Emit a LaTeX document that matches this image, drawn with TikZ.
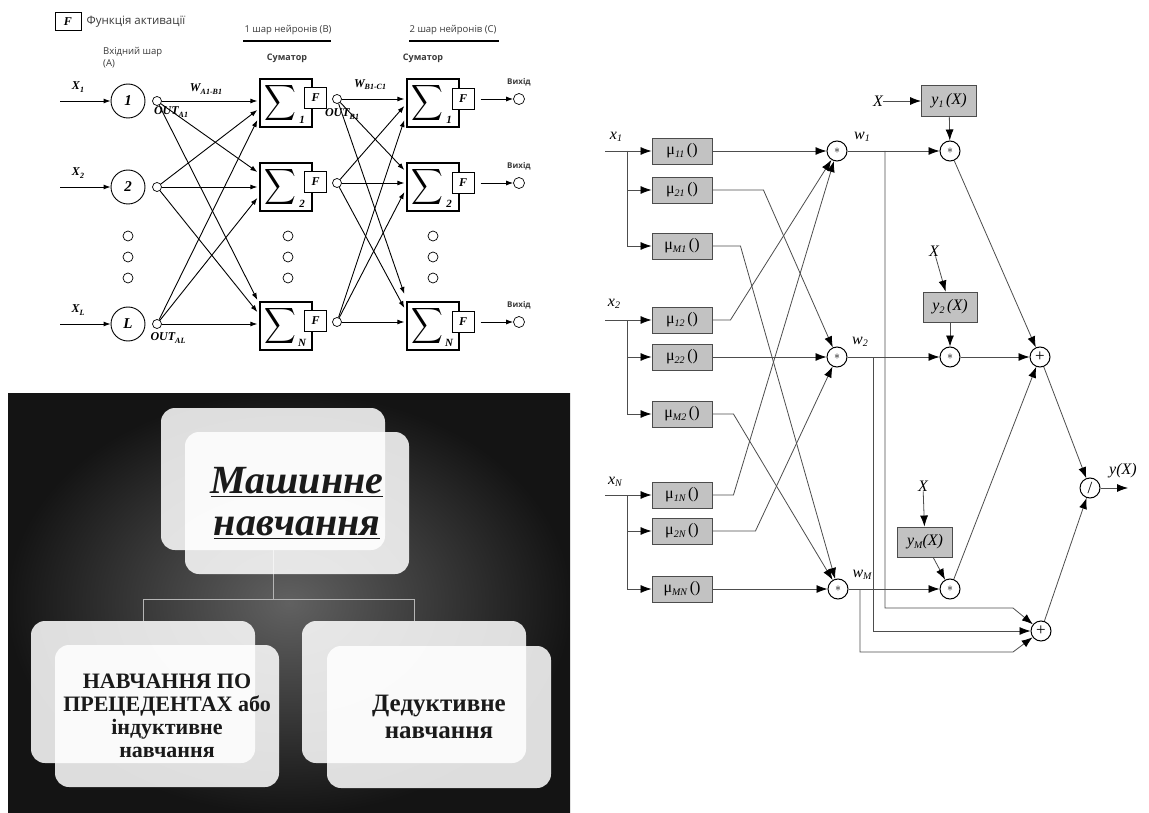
\documentclass[tikz,border=0pt]{standalone}
\usepackage{fontspec}
\usepackage{graphicx}
\setmainfont{Liberation Serif}
\setsansfont{Open Sans}
\usetikzlibrary{
  arrows.meta,
  positioning,
  shapes
}

\definecolor{mugray}{HTML}{C2C2C2}
\definecolor{wire}{HTML}{4D4D4D}
\definecolor{labelgray}{HTML}{3A3A3A}
\definecolor{mlwire}{HTML}{B5B5B5}
\definecolor{mlink}{HTML}{1A1A1A}

\newcommand{\nnidx}[2]{#1\raisebox{-0.4ex}{\fontsize{8}{8}\selectfont #2}}
\newcommand{\fzidx}[2]{#1\raisebox{-0.35ex}{\fontsize{10}{10}\selectfont\itshape #2}}
\newcommand{\mulab}[1]{μ\raisebox{-0.4ex}{\fontsize{10}{10}\selectfont\itshape #1}\,()}
\newcommand{\bigsum}{\scalebox{2.2}[2.5]{$\displaystyle\sum$}}

\tikzset{
  inneur/.style={circle, draw, line width=0.9pt, minimum size=34pt, inner sep=0pt,
    font=\fontsize{15}{15}\selectfont\bfseries\itshape},
  outdot/.style={circle, draw, line width=0.7pt, minimum size=9pt, inner sep=0pt},
  sumbox/.style={draw, line width=1.3pt, minimum width=52pt, minimum height=48pt},
  sigma/.style={inner sep=0pt},
  subnum/.style={inner sep=0pt, font=\fontsize{11}{11}\selectfont\bfseries\itshape},
  fbox/.style={draw, fill=white, line width=1pt, minimum width=22pt, minimum height=21pt,
    inner sep=0pt, font=\fontsize{12}{12}\selectfont\bfseries\itshape},
  nnarrow/.style={-{Latex[length=7pt,width=5pt]}, line width=0.9pt},
  nnlabel/.style={inner sep=1pt, text=labelgray, font=\fontsize{11.5}{13}\selectfont\sffamily},
  nnhead/.style={nnlabel, font=\fontsize{9}{10}\selectfont\sffamily\bfseries},
  nnmath/.style={inner sep=0pt, font=\fontsize{12}{12}\selectfont\bfseries\itshape},
  hbar/.style={line width=2.4pt},
  mubox/.style={draw=black!70, fill=mugray, line width=0.9pt, minimum width=60pt,
    minimum height=26pt, inner sep=0pt, font=\fontsize{16}{16}\selectfont},
  ybox/.style={mubox, minimum width=55pt, minimum height=31pt,
    font=\fontsize{16}{16}\selectfont\itshape},
  opcirc/.style={circle, draw, line width=1pt, minimum size=20pt, inner sep=0pt,
    font=\fontsize{12}{12}\selectfont},
  opsign/.style={opcirc, font=\fontsize{17}{17}\selectfont},
  fzarrow/.style={draw=wire, line width=0.8pt, -{Latex[length=11pt,width=8pt,color=black]}},
  fzlabel/.style={inner sep=0pt, font=\fontsize{16}{16}\selectfont\itshape},
  mlbox/.style={rounded corners=14pt, fill=white, fill opacity=0.86, text opacity=1,
    minimum width=224pt, minimum height=142pt, inner sep=0pt},
  mltitle/.style={align=center, text=mlink, font=\fontsize{40}{42}\selectfont\bfseries\itshape},
  mltext/.style={align=center, text=mlink, font=\fontsize{22}{23}\selectfont\bfseries},
  mlline/.style={draw=mlwire, line width=1pt}
}

\begin{document}
\begin{tikzpicture}[x=1pt,y=-1pt]
  \fill[white] (0,0) rectangle (1149,813);
  \useasboundingbox (0,0) rectangle (1149,813);

  % ---- network with two layers of neurons (top left)
  \node[fbox, minimum width=26pt, minimum height=18pt] (fleg) at (68,22) {F};
  \node[nnlabel, right=4pt of fleg] (flegtxt) {Функція активації};
  \node[nnlabel, anchor=south, font=\fontsize{9.5}{10}\selectfont\sffamily] (hdb) at (288,36) {1 шар нейронів (В)};
  \node[nnlabel, anchor=south, font=\fontsize{9.5}{10}\selectfont\sffamily] (hdc) at (453,36) {2 шар нейронів (С)};
  \draw[hbar] (243,41) -- (331,41);
  \draw[hbar] (409,41) -- (499,41);
  \node[nnlabel, anchor=north west, align=left, font=\fontsize{9.5}{12}\selectfont\sffamily] (hda) at (102,46) {Вхідний шар\\(А)};
  \node[nnhead] (smb) at (287,58) {Суматор};
  \node[nnhead] (smc) at (423,58) {Суматор};

  % input layer
  \foreach \n/\y in {1/101, 2/187, L/324} {
    \node[inneur] (a\n) at (128,\y) {\n};
    \node[outdot] (oa\n) at (157,\y) {};
    \coordinate (xin\n) at (60,\y);
    \draw[nnarrow] (xin\n) -- (a\n);
    \node[nnmath] (xl\n) at (78,\y-14) {\nnidx{X}{\n}};
  }

  % hidden layer B
  \foreach \n/\y in {1/103, 2/187, N/326} {
    \node[sumbox] (b\n) at (286,\y) {};
    \node[sigma] (sb\n) at (280,\y) {\bigsum};
    \node[subnum] (nb\n) at (302,\y+17) {\n};
    \node[fbox] (fb\n) at (315.5,\y-5) {F};
    \node[outdot] (ob\n) at (337,\y-4) {};
  }

  % output layer C
  \foreach \n/\y in {1/103, 2/187, N/326} {
    \node[sumbox] (c\n) at (433,\y) {};
    \node[sigma] (sc\n) at (427,\y) {\bigsum};
    \node[subnum] (nc\n) at (449,\y+17) {\n};
    \node[fbox] (fc\n) at (463,\y-4) {F};
    \node[outdot, minimum size=11pt] (yc\n) at (519,\y-4) {};
    \node[nnhead, above=6pt of yc\n, font=\fontsize{8}{9}\selectfont\sffamily\bfseries] (vc\n) {Вихід};
    \draw[nnarrow] (fc\n.east) ++(6,0) -- (yc\n);
  }

  % omitted neurons
  \foreach \x in {128,288,433}
    \foreach \y in {236,257,278}
      \draw[line width=0.7pt] (\x,\y) circle (5pt);

  % weights A -> B
  \foreach \s/\t/\d in {a1/b1/2pt, a1/b2/15pt, a1/bN/26pt, a2/b1/-7pt, a2/b2/0pt,
                        a2/bN/14pt, aL/b1/-17pt, aL/b2/-11pt, aL/bN/2pt}
    \draw[nnarrow] (o\s) -- ([xshift=-2pt, yshift=\d]\t.west);

  % weights B -> C
  \foreach \s/\t/\d in {b1/c1/4pt, b1/c2/17pt, b1/cN/32pt, b2/c1/-3pt, b2/c2/4pt,
                        b2/cN/18pt, bN/c1/-17pt, bN/c2/-5pt, bN/cN/4pt}
    \draw[nnarrow] (o\s) -- ([xshift=-2pt, yshift=\d]\t.west);

  \node[nnmath] (wab) at (206,89) {\nnidx{W}{A1-B1}};
  \node[nnmath] (outa1) at (171,112) {\nnidx{OUT}{A1}};
  \node[nnmath] (outal) at (168,338) {\nnidx{OUT}{AL}};
  \node[nnmath] (wbc) at (370,85) {\nnidx{W}{B1-C1}};
  \node[nnmath] (outb1) at (342,114) {\nnidx{OUT}{B1}};

  % ---- fuzzy inference network (right)
  % input x1
  \node[fzlabel] (xl1) at (616,137) {\fzidx{x}{1}};
  \coordinate (xs1) at (605,151);
  \coordinate (bus1) at (627,151);
  \node[mubox] (mu11) at (682,151) {\mulab{11}};
  \node[mubox] (mu21) at (682,190) {\mulab{21}};
  \node[mubox] (muM1) at (682,246) {\mulab{M1}};
  \draw[fzarrow] (xs1) -- (mu11);
  \draw[fzarrow] (bus1) |- (mu21);
  \draw[fzarrow] (bus1) |- (muM1);

  % input x2
  \node[fzlabel] (xl2) at (614,304) {\fzidx{x}{2}};
  \coordinate (xs2) at (605,320);
  \coordinate (bus2) at (627,320);
  \node[mubox] (mu12) at (682,320) {\mulab{12}};
  \node[mubox] (mu22) at (682,357) {\mulab{22}};
  \node[mubox] (muM2) at (682,414) {\mulab{M2}};
  \draw[fzarrow] (xs2) -- (mu12);
  \draw[fzarrow] (bus2) |- (mu22);
  \draw[fzarrow] (bus2) |- (muM2);

  % input xN
  \node[fzlabel] (xlN) at (615,482) {\fzidx{x}{N}};
  \coordinate (xsN) at (605,495);
  \coordinate (busN) at (627,495);
  \node[mubox] (mu1N) at (682,495) {\mulab{1N}};
  \node[mubox] (mu2N) at (682,531) {\mulab{2N}};
  \node[mubox] (muMN) at (682,589) {\mulab{MN}};
  \draw[fzarrow] (xsN) -- (mu1N);
  \draw[fzarrow] (busN) |- (mu2N);
  \draw[fzarrow] (busN) |- (muMN);

  % rule strengths
  \node[opcirc] (w1) at (837,151) {$*$};
  \node[opcirc] (w2) at (837,357) {$*$};
  \node[opcirc] (wM) at (838,589) {$*$};
  \node[fzlabel] (wl1) at (862,137) {\fzidx{w}{1}};
  \node[fzlabel] (wl2) at (860,342) {\fzidx{w}{2}};
  \node[fzlabel] (wlM) at (862,575) {\fzidx{w}{M}};

  \draw[fzarrow] (mu11) -- (w1);
  \draw[fzarrow] (mu21.east) -- ++(51,0) -- (w2);
  \draw[fzarrow] (muM1.east) -- ++(28,0) -- (wM);
  \draw[fzarrow] (mu12.east) -- ++(18,0) -- (w1);
  \draw[fzarrow] (mu22) -- (w2);
  \draw[fzarrow] (muM2.east) -- ++(21,0) -- (wM);
  \draw[fzarrow] (mu1N.east) -- ++(21,0) -- (w1);
  \draw[fzarrow] (mu2N.east) -- ++(43,0) -- (w2);
  \draw[fzarrow] (muMN) -- (wM);

  % consequents
  \node[fzlabel] (X1) at (878,101) {X};
  \node[ybox] (yb1) at (949,101) {\fzidx{y}{1}\,(X)};
  \node[fzlabel] (X2) at (934,251) {X};
  \node[ybox, minimum width=54pt, minimum height=30pt] (yb2) at (950,307) {\fzidx{y}{2}\,(X)};
  \node[fzlabel] (XM) at (923,486) {X};
  \node[ybox, minimum height=30pt] (ybM) at (925,542) {\fzidx{y}{M}(X)};
  \node[opcirc] (yp1) at (950,151) {$*$};
  \node[opcirc] (yp2) at (950,357) {$*$};
  \node[opcirc] (ypM) at (950,589) {$*$};

  \draw[fzarrow] (X1) -- (yb1);
  \draw[fzarrow] (X2) -- (yb2);
  \draw[fzarrow] (XM) -- (ybM);
  \draw[fzarrow] (yb1) -- (yp1);
  \draw[fzarrow] (yb2) -- (yp2);
  \draw[fzarrow] (ybM) -- (ypM);
  \draw[fzarrow] (w1) -- (yp1);
  \draw[fzarrow] (w2) -- (yp2);
  \draw[fzarrow] (wM) -- (ypM);

  % sums and division
  \node[opsign] (s1) at (1040,357) {+};
  \node[opsign] (s2) at (1041,631) {+};
  \node[opsign] (dv) at (1090,488) {/};
  \coordinate (yout) at (1128,488);
  \node[fzlabel] (ylb) at (1123,471) {y(X)};

  \coordinate (br1) at (885,151);
  \coordinate (br2) at (873,357);
  \coordinate (brM) at (860,589);
  \draw[fzarrow] (br1) -- ++(0,457) -- ++(128,0) -- (s2);
  \draw[fzarrow] (br2) |- (s2);
  \draw[fzarrow] (brM) -- ++(0,63) -- ++(153,0) -- (s2);

  \draw[fzarrow] (yp1) -- (s1);
  \draw[fzarrow] (yp2) -- (s1);
  \draw[fzarrow] (ypM) -- (s1);
  \draw[fzarrow] (s1) -- (dv);
  \draw[fzarrow] (s2) -- (dv);
  \draw[fzarrow] (dv) -- (yout);

  % ---- machine learning panel (bottom left)
  \shade[inner color=black!62, outer color=black!92] (8,393) rectangle (570,813);
  \node[mlbox] (topback) at (273,479) {};
  \node[mlbox] (leftback) at (143,692) {};
  \node[mlbox] (rightback) at (414,692) {};
  \draw[mlline] (topback.south) -- ++(0,49) -| (leftback.north);
  \draw[mlline] (topback.south) ++(0,49) -| (rightback.north);
  \node[mlbox, mltitle] (topfront) at (297,503) {\underline{Машинне}\\\underline{навчання}};
  \node[mlbox, mltext] (leftfront) at (167,716) {НАВЧАННЯ ПО\\ПРЕЦЕДЕНТАХ або\\індуктивне\\навчання};
  \node[mlbox, mltext, font=\fontsize{25}{27}\selectfont\bfseries] (rightfront) at (439,717) {Дедуктивне\\навчання};
\end{tikzpicture}
\end{document}
